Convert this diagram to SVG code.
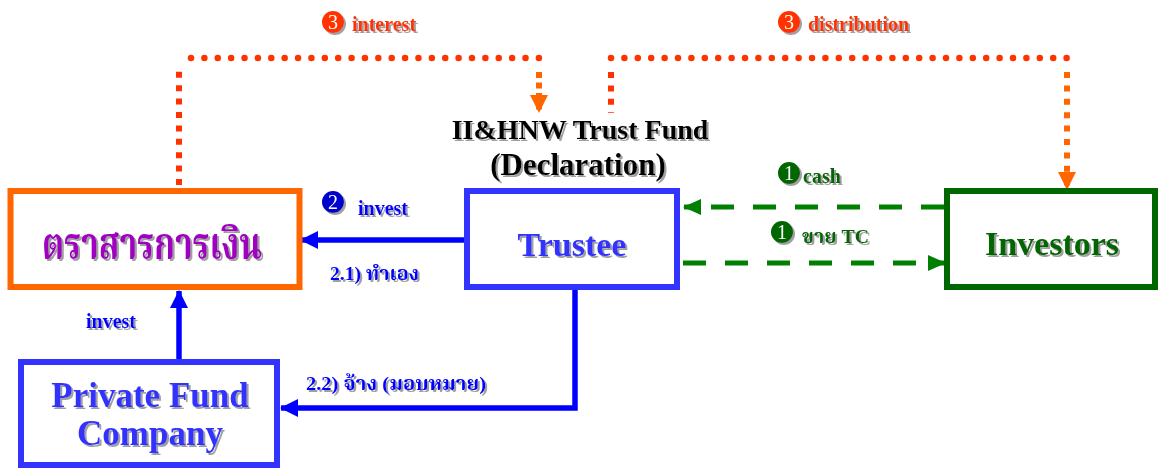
<svg xmlns="http://www.w3.org/2000/svg" width="1159" height="470" viewBox="0 0 1159 470">
  <style>
    .lbl { font-family: "Liberation Serif", "Noto Serif Thai", "Noto Sans Thai", serif; font-weight: bold; }
    .box { fill: #ffffff; stroke-width: 6; }
    .shadow { filter: url(#shade); }
    .num { font-family: "Liberation Serif", serif; font-size: 20px; fill: #ffffff; text-anchor: middle; }
  </style>
  <defs>
    <filter id="shade" x="-10%" y="-20%" width="130%" height="150%">
      <feDropShadow dx="2" dy="2" stdDeviation="0.6" flood-color="#a0a0a0" flood-opacity="1"/>
    </filter>
    <marker id="arrBlue" markerWidth="18" markerHeight="18" refX="17" refY="9" orient="auto" markerUnits="userSpaceOnUse">
      <path d="M0,0 L18,9 L0,18 z" fill="#0000ff"/>
    </marker>
    <marker id="arrGreen" markerWidth="18" markerHeight="16" refX="17" refY="8" orient="auto" markerUnits="userSpaceOnUse">
      <path d="M0,0 L18,8 L0,16 z" fill="#008000"/>
    </marker>
    <marker id="arrOrange" markerWidth="18" markerHeight="18" refX="17" refY="9" orient="auto" markerUnits="userSpaceOnUse">
      <path d="M0,0 L18,9 L0,18 z" fill="#ff6600"/>
    </marker>
  </defs>

  <rect width="1159" height="470" fill="#ffffff"/>

  <!-- connectors -->
  <g id="connectors" fill="none">
    <!-- interest: from instruments up and over to the fund -->
    <path d="M179,185 V70" stroke="#ff3300" stroke-width="6" stroke-dasharray="6 7.4"/>
    <path d="M191,58 H539" stroke="#ff3300" stroke-width="6.5" stroke-linecap="round" stroke-dasharray="0 13.38"/>
    <path d="M539,72 V112" stroke="#ff6600" stroke-width="6" stroke-dasharray="6 4.5" marker-end="url(#arrOrange)"/>
    <!-- distribution: from the fund over to investors -->
    <path d="M611,72 V113" stroke="#ff3300" stroke-width="6" stroke-dasharray="6 7.4"/>
    <path d="M611,58 H1067" stroke="#ff3300" stroke-width="6.5" stroke-linecap="round" stroke-dasharray="0 13.4"/>
    <path d="M1067,72 V189" stroke="#ff6600" stroke-width="6" stroke-dasharray="6 7.4" marker-end="url(#arrOrange)"/>

    <!-- trustee invests directly -->
    <path d="M464,240 H301" stroke="#0000ff" stroke-width="5.5" marker-end="url(#arrBlue)"/>
    <!-- trustee delegates to private fund -->
    <path d="M575,290 V408 H281" stroke="#0000ff" stroke-width="5.5" marker-end="url(#arrBlue)"/>
    <!-- private fund invests -->
    <path d="M179,359 V291" stroke="#0000ff" stroke-width="5.5" marker-end="url(#arrBlue)"/>

    <!-- cash and unit sale between trustee and investors -->
    <path d="M944,207 H684" stroke="#008000" stroke-width="5" stroke-dasharray="23 19" marker-end="url(#arrGreen)"/>
    <path d="M683,263 H945" stroke="#008000" stroke-width="5" stroke-dasharray="23 19" marker-end="url(#arrGreen)"/>
  </g>

  <!-- instruments -->
  <g id="instruments">
    <rect class="box" x="10.5" y="191" width="289" height="96" stroke="#ff6600"/>
    <text class="lbl shadow" x="42" y="259" font-size="44" fill="#a000c0" textLength="220" lengthAdjust="spacingAndGlyphs">ตราสารการเงิน</text>
  </g>

  <!-- trustee -->
  <g id="trustee">
    <rect class="box" x="467" y="191" width="210" height="96" stroke="#3333ff"/>
    <text class="lbl shadow" x="572" y="256" font-size="34" fill="#3333ff" text-anchor="middle">Trustee</text>
  </g>

  <!-- fund title -->
  <g id="fund-title">
    <text class="lbl shadow" x="580" y="139" font-size="28" fill="#000000" text-anchor="middle">II&amp;HNW Trust Fund</text>
    <text class="lbl shadow" x="578" y="175" font-size="31" fill="#000000" text-anchor="middle">(Declaration)</text>
  </g>

  <!-- investors -->
  <g id="investors">
    <rect class="box" x="947" y="191" width="208" height="96" stroke="#006600"/>
    <text class="lbl shadow" x="1052" y="255" font-size="34" fill="#006600" text-anchor="middle">Investors</text>
  </g>

  <!-- private fund company -->
  <g id="private-fund">
    <rect class="box" x="21" y="362" width="256" height="103" stroke="#3333ff"/>
    <text class="lbl shadow" x="150" y="407" font-size="35" fill="#3333ff" text-anchor="middle">Private Fund</text>
    <text class="lbl shadow" x="150" y="445" font-size="35" fill="#3333ff" text-anchor="middle">Company</text>
  </g>

  <!-- connector labels -->
  <g id="labels">
    <g class="shadow">
      <circle cx="333" cy="22" r="11" fill="#ff3300"/>
      <text class="num" x="333" y="29">3</text>
    </g>
    <text class="lbl shadow" x="352" y="31" font-size="20" fill="#ff3300">interest</text>

    <g class="shadow">
      <circle cx="789" cy="22" r="11" fill="#ff3300"/>
      <text class="num" x="789" y="29">3</text>
    </g>
    <text class="lbl shadow" x="808" y="31" font-size="20" fill="#ff3300">distribution</text>

    <g class="shadow">
      <circle cx="333" cy="202" r="11" fill="#0000cc"/>
      <text class="num" x="333" y="209">2</text>
    </g>
    <text class="lbl shadow" x="358" y="215" font-size="20" fill="#0000ff">invest</text>
    <text class="lbl shadow" x="330" y="280" font-size="19" fill="#0000ff" textLength="89" lengthAdjust="spacingAndGlyphs">2.1) ทำเอง</text>
    <text class="lbl shadow" x="86" y="328" font-size="20" fill="#0000ff">invest</text>
    <text class="lbl shadow" x="306" y="390" font-size="19" fill="#0000ff" textLength="180" lengthAdjust="spacingAndGlyphs">2.2) จ้าง (มอบหมาย)</text>

    <g class="shadow">
      <circle cx="789" cy="173" r="11" fill="#006600"/>
      <text class="num" x="789" y="180">1</text>
    </g>
    <text class="lbl shadow" x="803" y="183" font-size="20" fill="#006600">cash</text>

    <g class="shadow">
      <circle cx="782" cy="232" r="11" fill="#006600"/>
      <text class="num" x="782" y="239">1</text>
    </g>
    <text class="lbl shadow" x="802" y="243" font-size="19" fill="#006600" textLength="67" lengthAdjust="spacingAndGlyphs">ขาย TC</text>
  </g>
</svg>
